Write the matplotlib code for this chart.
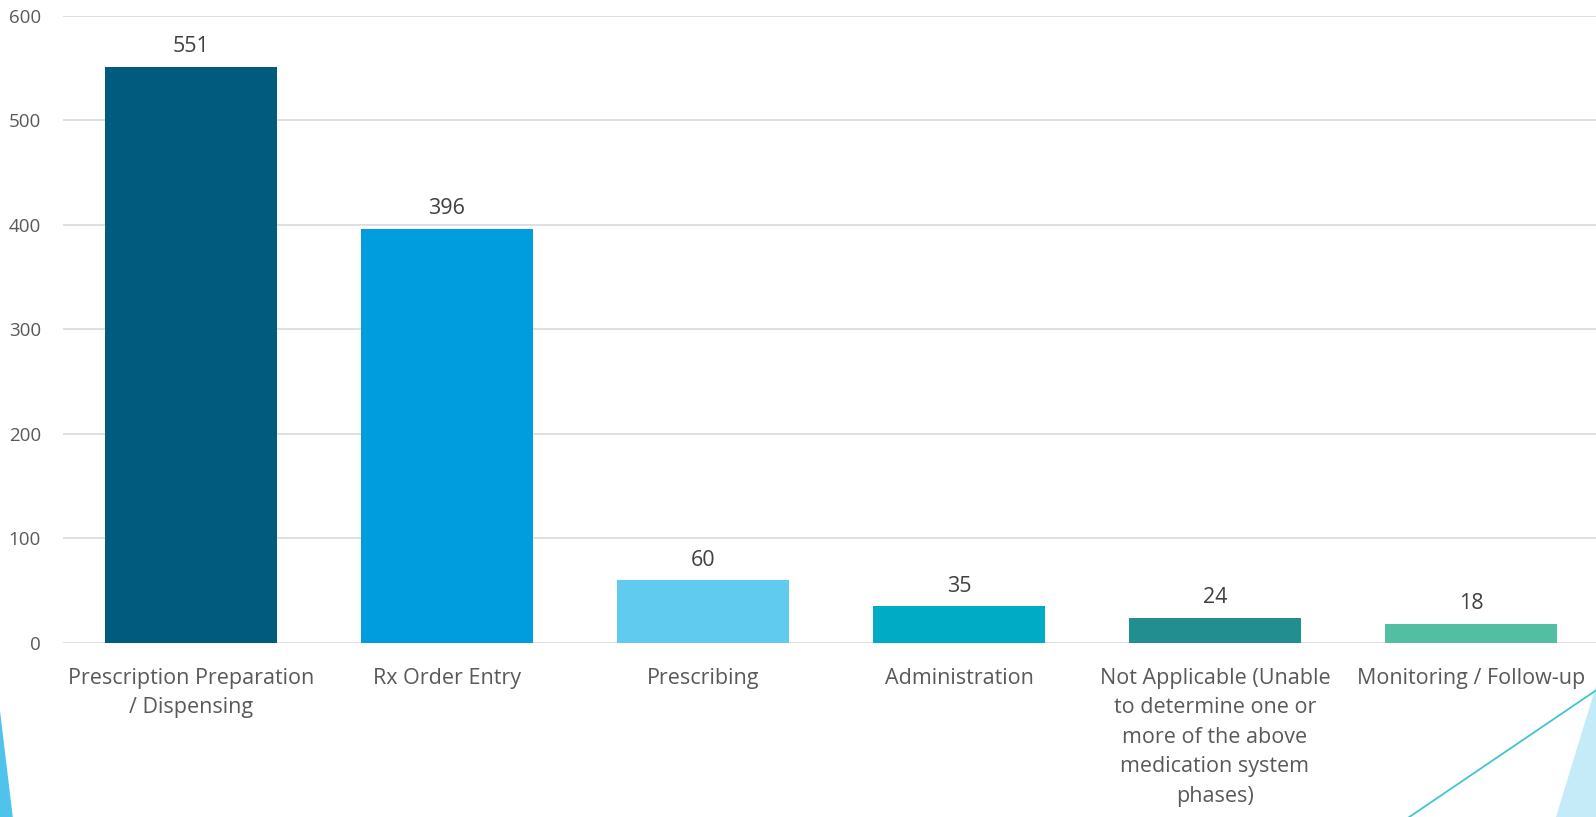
import matplotlib.pyplot as plt
from matplotlib.patches import Polygon
from matplotlib.lines import Line2D

plt.rcParams['font.family'] = ['Open Sans', 'DejaVu Sans']

categories = [
    'Prescription Preparation\n/ Dispensing',
    'Rx Order Entry',
    'Prescribing',
    'Administration',
    'Not Applicable (Unable\nto determine one or\nmore of the above\nmedication system\nphases)',
    'Monitoring / Follow-up',
]
counts = [551, 396, 60, 35, 24, 18]
colors = ['#005B7F', '#009DDE', '#61CBEF', '#00ACC5', '#238E8F', '#52BFA3']
yticks = [0, 100, 200, 300, 400, 500, 600]

fig = plt.figure(figsize=(15.96, 8.17), dpi=100)

# background decorations (corner triangles)
fig.patches.append(Polygon([[0.0, 0.0], [0.008, 0.0], [0.0, 0.13]], closed=True,
                           transform=fig.transFigure, facecolor='#4FC3EC', edgecolor='none'))
fig.patches.append(Polygon([[0.975, 0.0], [1.0, 0.0], [1.0, 0.16]], closed=True,
                           transform=fig.transFigure, facecolor='#C6EBF8', edgecolor='none'))
fig.lines.append(Line2D([0.883, 1.0], [0.0, 0.155], transform=fig.transFigure,
                        color='#3CC6D6', linewidth=1.3))

ax = fig.add_axes([0.0395, 0.213, 0.9623, 0.768])
x = range(len(categories))
ax.bar(x, counts, width=0.67, color=colors, zorder=3)

for xi, v in zip(x, counts):
    ax.annotate(str(v), (xi, v), xytext=(0, 7), textcoords='offset points',
                ha='center', va='bottom', fontsize=15.5, color='#404040')

ax.set_xlim(-0.5, 5.5)
ax.set_ylim(0, 600)
ax.set_yticks(yticks)
ax.set_xticks(list(x))
ax.set_xticklabels(categories, fontsize=15.5, color='#595959', linespacing=1.53)
ax.tick_params(axis='y', labelsize=13.5, labelcolor='#595959', length=0, pad=16)
ax.tick_params(axis='x', length=0, pad=18)
ax.grid(axis='y', color='#D9D9D9', linewidth=1.2, zorder=0)
for s in ax.spines.values():
    s.set_visible(False)

plt.savefig('out.png', dpi=100)
